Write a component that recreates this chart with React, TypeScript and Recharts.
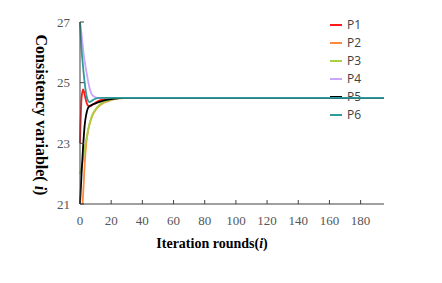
import React from 'react';
import { LineChart, Line, XAxis, YAxis } from 'recharts';

const iterations = [0, 1, 2, 3, 4, 5, 6, 7, 8, 10, 12, 15, 20, 25, 30, 195];
const p1 = [23.0, 24.5, 24.78, 24.6, 24.38, 24.25, 24.22, 24.24, 24.27, 24.34, 24.4, 24.45, 24.49, 24.5, 24.5, 24.5];
const p2 = [20.0, 20.5, 21.3, 22.3, 23.0, 23.35, 23.6, 23.78, 23.92, 24.1, 24.22, 24.33, 24.43, 24.48, 24.5, 24.5];
const p3 = [22.0, 22.2, 22.5, 22.85, 23.12, 23.4, 23.63, 23.8, 23.95, 24.12, 24.24, 24.35, 24.44, 24.48, 24.5, 24.5];
const p4 = [27.0, 26.6, 26.1, 25.7, 25.4, 25.1, 24.85, 24.68, 24.58, 24.52, 24.5, 24.5, 24.5, 24.5, 24.5, 24.5];
const p5 = [21.0, 22.0, 22.9, 23.6, 23.95, 24.15, 24.22, 24.25, 24.28, 24.32, 24.36, 24.41, 24.46, 24.49, 24.5, 24.5];
const p6 = [27.0, 26.1, 25.5, 25.0, 24.62, 24.42, 24.36, 24.38, 24.42, 24.47, 24.5, 24.5, 24.5, 24.5, 24.5, 24.5];

const seriesNames = ['P1', 'P2', 'P3', 'P4', 'P5', 'P6'];
const seriesColors = ['#FF1A1A', '#FF8A3D', '#A8D040', '#C9A6FF', '#000000', '#2E9A9A'];
const seriesValues = [p1, p2, p3, p4, p5, p6];

const xTicks = [0, 20, 40, 60, 80, 100, 120, 140, 160, 180];
const yTicks = [21, 23, 25, 27];

const data = iterations.map((it, i) => {
  const row: Record<string, number> = { it };
  seriesNames.forEach((n, k) => {
    row[n] = seriesValues[k][i];
  });
  return row;
});

const serif = '"Liberation Serif", "Times New Roman", serif';
const tickStyle = { fontFamily: serif, fontSize: 13, fill: '#555555' };

const LegendBox = () => (
  <div
    style={{
      position: 'absolute',
      left: 330,
      top: 15.5,
      width: 60,
      fontFamily: '"Open Sans", "Liberation Sans", sans-serif',
      fontSize: 12,
      color: '#404040',
    }}
  >
    {seriesNames.map((n, k) => (
      <div key={n} style={{ height: 18, display: 'flex', alignItems: 'center' }}>
        <div style={{ width: 12, height: 2, background: seriesColors[k], marginRight: 5 }} />
        <span>{n}</span>
      </div>
    ))}
  </div>
);

export default function App() {
  return (
    <div style={{ position: 'absolute', left: 0, top: 0, width: 442, height: 283, background: '#fff' }}>
      <LegendBox />
      <div style={{ position: 'absolute', left: 0, top: 0 }}>
        <LineChart width={442} height={283} data={data} margin={{ top: 22, right: 58, bottom: 49, left: 20 }}>
          <XAxis
            dataKey="it"
            type="number"
            domain={[0, 195]}
            ticks={xTicks}
            interval={0}
            tickSize={-4}
            tickMargin={16}
            stroke="#404040"
            tick={tickStyle}
            height={30}
            label={{
              content: () => (
                <text x={212} y={248} textAnchor="middle" fontFamily={serif} fontSize={14} fontWeight="bold" fill="#000">
                  Iteration rounds(<tspan fontStyle="italic">i</tspan>)
                </text>
              ),
            }}
          />
          <YAxis
            type="number"
            domain={[21, 27]}
            allowDataOverflow
            ticks={yTicks}
            interval={0}
            width={60}
            tickSize={-4}
            tickMargin={14}
            stroke="#404040"
            tick={tickStyle}
            label={{
              content: () => (
                <text x={41} y={115} transform="rotate(90, 41, 115)" textAnchor="middle" dominantBaseline="central" fontFamily={serif} fontSize={16} fontWeight="bold" fill="#000">
                  Consistency variable( <tspan fontStyle="italic">i</tspan>)
                </text>
              ),
            }}
          />
          {seriesNames.map((n, k) => (
            <Line
              key={n}
              type="monotone"
              dataKey={n}
              stroke={seriesColors[k]}
              strokeWidth={1.8}
              dot={false}
              isAnimationActive={false}
            />
          ))}
        </LineChart>
      </div>
    </div>
  );
}
